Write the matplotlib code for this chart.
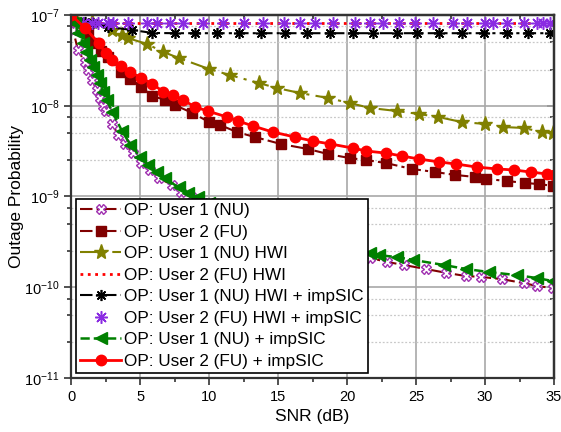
import numpy as np
import matplotlib
matplotlib.use("Agg")
import matplotlib.pyplot as plt
from matplotlib.ticker import LogLocator, MultipleLocator, NullFormatter

plt.rcParams["font.family"] = ["Liberation Sans", "DejaVu Sans"]
plt.rcParams["mathtext.default"] = "regular"

# ---- data ----
nu_snr = [0, 0.15, 0.5, 1.0, 1.2, 1.5, 1.9, 2.1, 2.3, 2.5, 3.0, 3.4, 3.9, 4.5, 5.1, 5.7, 6.4, 7.3, 8.0, 8.8,
          9.6, 11.0, 12.5, 14.0, 15.5, 17.0, 18.5, 20.0, 21.7, 22.9, 24.1, 25.7, 27.2, 28.6, 29.7, 31.2, 32.8, 33.8, 34.9]
nu_op = [1e-7, 6.84e-8, 4.11e-8, 3.03e-8, 2.48e-8, 1.92e-8, 1.49e-8, 1.22e-8, 1.0e-8, 8.71e-9, 6.31e-9, 4.79e-9,
         3.80e-9, 3.02e-9, 2.34e-9, 1.95e-9, 1.58e-9, 1.35e-9, 1.12e-9, 9.77e-10, 8.51e-10, 6.76e-10, 5.37e-10,
         4.37e-10, 3.63e-10, 3.09e-10, 2.69e-10, 2.34e-10, 2.10e-10, 1.90e-10, 1.76e-10, 1.59e-10, 1.44e-10,
         1.33e-10, 1.30e-10, 1.23e-10, 1.11e-10, 1.03e-10, 9.8e-11]

fu_snr = [0, 1.2, 1.7, 2.2, 2.7, 3.6, 4.3, 5.1, 5.9, 6.8, 7.5, 8.8, 10.0, 10.8, 12.0, 13.3, 15.2, 17.2, 18.6,
          20.2, 21.4, 22.8, 24.7, 26.4, 27.8, 29.3, 30.1, 31.6, 32.9, 33.9, 34.9]
fu_op = [1e-7, 6.34e-8, 4.91e-8, 4.01e-8, 3.44e-8, 2.36e-8, 1.97e-8, 1.61e-8, 1.28e-8, 1.16e-8, 1.02e-8, 8.32e-9,
         6.62e-9, 6.14e-9, 5.14e-9, 4.53e-9, 3.79e-9, 3.33e-9, 2.94e-9, 2.65e-9, 2.52e-9, 2.34e-9, 2.01e-9,
         1.86e-9, 1.73e-9, 1.64e-9, 1.56e-9, 1.48e-9, 1.41e-9, 1.37e-9, 1.31e-9]

hwi_nu_snr = [0, 1.5, 3.0, 3.7, 4.1, 5.5, 6.7, 7.8, 10.0, 11.5, 13.6, 14.9, 16.6, 18.6, 20.2, 21.7, 23.6, 25.2,
              26.6, 28.3, 30.0, 31.3, 32.8, 34.1, 34.9]
hwi_nu_op = [1e-7, 8.38e-8, 6.84e-8, 6.03e-8, 5.58e-8, 4.79e-8, 3.91e-8, 3.36e-8, 2.54e-8, 2.18e-8, 1.78e-8,
             1.57e-8, 1.38e-8, 1.22e-8, 1.07e-8, 9.44e-9, 8.75e-9, 8.11e-9, 7.52e-9, 6.62e-9, 6.30e-9, 5.83e-9,
             5.69e-9, 5.14e-9, 5.01e-9]

hwi_fu_snr = [0, 35]
hwi_fu_op = [8.2e-8, 8.2e-8]

hwi_imp_nu_snr = [0, 1.0, 1.6, 2.7, 4.4, 5.9, 7.5, 9.0, 10.6, 12.2, 13.8, 15.5, 17.1, 18.8, 20.4, 21.9, 23.6,
                  25.1, 26.7, 28.3, 29.9, 31.6, 33.1, 34.7]
hwi_imp_nu_op = [1e-7, 8.38e-8, 8.16e-8, 7.38e-8, 6.84e-8, 6.34e-8, 6.3e-8, 6.3e-8, 6.3e-8, 6.3e-8, 6.3e-8,
                 6.3e-8, 6.3e-8, 6.3e-8, 6.3e-8, 6.3e-8, 6.3e-8, 6.3e-8, 6.3e-8, 6.3e-8, 6.3e-8, 6.3e-8,
                 6.3e-8, 6.3e-8]

hwi_imp_fu_snr = [0.87, 1.52, 1.96, 2.68, 3.04, 4.13, 5.51, 6.23, 7.17, 8.12, 9.57, 11.0, 12.5, 13.9, 15.4, 16.6,
                  17.7, 19.0, 20.6, 21.7, 22.6, 23.8, 24.9, 26.2, 27.7, 28.7, 30.0, 30.6, 31.6, 32.8, 33.8, 34.2, 34.7]
hwi_imp_fu_op = [8.2e-8] * len(hwi_imp_fu_snr)

imp_nu_snr = [0, 0.3, 0.5, 0.9, 1.1, 1.4, 1.6, 1.9, 2.1, 2.3, 2.6, 3.0, 3.7, 4.3, 5.0, 5.6, 6.2, 6.8, 7.8, 8.5,
              9.2, 10.0, 11.5, 13.0, 14.5, 16.0, 17.5, 19.0, 20.5, 21.7, 22.3, 23.6, 24.8, 27.0, 28.6, 30.3,
              32.3, 33.8, 34.9]
imp_nu_op = [1e-7, 8.13e-8, 6.31e-8, 4.90e-8, 3.89e-8, 3.16e-8, 2.69e-8, 2.19e-8, 1.78e-8, 1.41e-8, 1.15e-8,
             8.51e-9, 5.25e-9, 3.72e-9, 2.75e-9, 2.24e-9, 1.86e-9, 1.58e-9, 1.26e-9, 1.10e-9, 9.77e-10,
             8.51e-10, 6.76e-10, 5.50e-10, 4.57e-10, 3.89e-10, 3.39e-10, 2.95e-10, 2.63e-10, 2.38e-10,
             2.26e-10, 2.15e-10, 2.00e-10, 1.76e-10, 1.59e-10, 1.47e-10, 1.36e-10, 1.26e-10, 1.17e-10]

imp_fu_snr = [0, 1.0, 2.0, 2.5, 3.0, 3.6, 4.3, 5.1, 5.9, 6.7, 7.4, 8.1, 9.0, 9.9, 11.3, 12.1, 13.2, 14.6, 16.2,
              17.5, 18.8, 20.4, 21.4, 22.8, 24.0, 25.2, 26.7, 27.9, 29.4, 30.9, 32.1, 33.3, 34.5, 35.0]
imp_fu_op = [1e-7, 7.24e-8, 4.90e-8, 3.81e-8, 3.19e-8, 2.74e-8, 2.36e-8, 2.02e-8, 1.74e-8, 1.42e-8, 1.31e-8,
             1.16e-8, 9.68e-9, 8.75e-9, 7.52e-9, 6.79e-9, 5.98e-9, 5.14e-9, 4.53e-9, 4.09e-9, 3.79e-9,
             3.42e-9, 3.17e-9, 3.01e-9, 2.79e-9, 2.59e-9, 2.40e-9, 2.28e-9, 2.11e-9, 2.01e-9, 1.96e-9,
             1.86e-9, 1.77e-9, 1.74e-9]

labels = ["OP: User 1 (NU)", "OP: User 2 (FU)", "OP: User 1 (NU) HWI", "OP: User 2 (FU) HWI",
          "OP: User 1 (NU) HWI + impSIC", "OP: User 2 (FU) HWI + impSIC",
          "OP: User 1 (NU) + impSIC", "OP: User 2 (FU) + impSIC"]

dashdot = (6, 2, 1.5, 2)

fig = plt.figure(figsize=(5.61, 4.32), dpi=100)
ax = fig.add_axes([0.1266, 0.125, 0.861, 0.8403])

ax.plot(nu_snr, nu_op, color="#800000", lw=1.5, dashes=dashdot, marker="X", ms=7,
        mfc="white", mec="#A030B0", mew=1.0, label=labels[0])
ax.plot(fu_snr, fu_op, color="#800000", lw=1.5, dashes=dashdot, marker="s", ms=6.5,
        mfc="#800000", mec="#800000", label=labels[1])
ax.plot(hwi_nu_snr, hwi_nu_op, color="#808000", lw=1.5, dashes=(8, 3, 1.5, 3), marker="*", ms=11,
        mfc="#808000", mec="#808000", label=labels[2])
ax.plot(hwi_fu_snr, hwi_fu_op, color="#FF0000", lw=2, ls=":", label=labels[3])
ax.plot(hwi_imp_nu_snr, hwi_imp_nu_op, color="black", lw=1.5, dashes=dashdot, marker=(8, 2, 0), ms=8,
        mew=1.2, label=labels[4])
ax.plot(hwi_imp_fu_snr, hwi_imp_fu_op, ls="none", marker=(8, 2, 0), ms=9, mec="#8A2BE2", mew=1.1,
        label=labels[5])
ax.plot(imp_nu_snr, imp_nu_op, color="#008000", lw=1.8, ls="--", marker="<", ms=8,
        mfc="#008000", mec="#008000", label=labels[6])
ax.plot(imp_fu_snr, imp_fu_op, color="#FF0000", lw=2, ls="-", marker="o", ms=7.5,
        mfc="#FF0000", mec="#FF0000", label=labels[7])

ax.set_yscale("log")
ax.set_xlim(0, 35)
ax.set_ylim(1e-11, 1e-7)
ax.xaxis.set_major_locator(MultipleLocator(5))
ax.xaxis.set_minor_locator(MultipleLocator(2.5))
ax.yaxis.set_major_locator(LogLocator(base=10, numticks=10))
ax.yaxis.set_minor_locator(LogLocator(base=10, subs=[2.5, 5, 7.5], numticks=10))
ax.yaxis.set_minor_formatter(NullFormatter())
ax.xaxis.get_offset_text().set_visible(False)
ax.yaxis.get_offset_text().set_visible(False)

ax.grid(True, which="major", color="#A8A8A8", lw=1.2, ls="-")
ax.grid(True, which="minor", axis="y", color="#C8C8C8", lw=0.9, ls=(0, (1.5, 1.5)))
ax.set_axisbelow(True)

for s in ax.spines.values():
    s.set_linewidth(1.6)
    s.set_color("#333333")

# left/bottom ticks outward, top/right inward
ax.tick_params(which="both", direction="out", labelsize=10.5, width=1.2, color="#333333")
ax.tick_params(which="major", length=5)
ax.tick_params(which="minor", length=3)
ax2 = ax.secondary_xaxis("top")
ax2.set_xticks(np.arange(0, 36, 5))
ax2.xaxis.set_minor_locator(MultipleLocator(2.5))
ax2.tick_params(which="both", direction="in", labeltop=False, width=1.2, color="#333333")
ax2.tick_params(which="major", length=5)
ax2.tick_params(which="minor", length=3)
ax2.spines["top"].set_linewidth(1.6)
ax3 = ax.secondary_yaxis("right")
ax3.yaxis.set_major_locator(LogLocator(base=10, numticks=10))
ax3.yaxis.set_minor_locator(LogLocator(base=10, subs=[2.5, 5, 7.5], numticks=10))
ax3.tick_params(which="both", direction="in", labelright=False, width=1.2, color="#333333")
ax3.tick_params(which="major", length=5)
ax3.tick_params(which="minor", length=3)
ax3.spines["right"].set_linewidth(1.6)

ax.set_xlabel("SNR (dB)", fontsize=12.5, labelpad=4)
ax.set_ylabel("Outage Probability", fontsize=12.5)
ax.yaxis.set_label_coords(-0.097, 0.5)

leg = ax.legend(loc="lower left", bbox_to_anchor=(0.0104, 0.0138), borderaxespad=0, fontsize=12.3,
                fancybox=False, framealpha=1, edgecolor="black", handlelength=2.4, handletextpad=0.15,
                labelspacing=0.38, borderpad=0.25)
leg.get_frame().set_linewidth(1.2)
leg.set_zorder(5)

fig.savefig("out.png", dpi=100)
